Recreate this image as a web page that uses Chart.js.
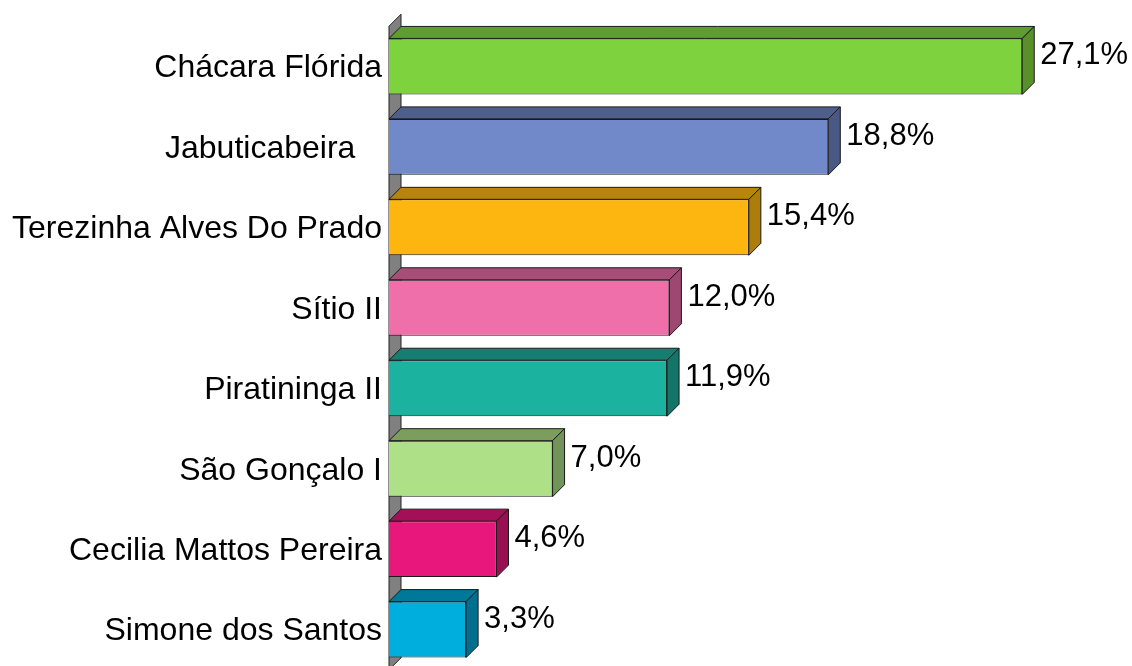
<!DOCTYPE html>
<html>
<head>
<meta charset="utf-8">
<script src="https://cdn.jsdelivr.net/npm/chart.js@4/dist/chart.umd.min.js"></script>
<style>
  html, body { margin: 0; padding: 0; background: #fff; overflow: hidden; }
  #wrap { width: 1132px; height: 696px; position: relative; }
</style>
</head>
<body>
<div id="wrap"><canvas id="c"></canvas></div>
<script>
// ---- data ----
const categories = [
  "Chácara Flórida",
  "Jabuticabeira   ",
  "Terezinha Alves Do Prado",
  "Sítio II",
  "Piratininga II",
  "São Gonçalo I",
  "Cecilia Mattos Pereira",
  "Simone dos Santos"
];
const percentValues = [27.1, 18.8, 15.4, 12.0, 11.9, 7.0, 4.6, 3.3];
const frontColors = ["#7ED23D", "#7189C9", "#FDB60F", "#EF6FAA", "#1BB3A0", "#AEE087", "#E8177B", "#00AEDE"];
const topColors   = ["#5F9E2E", "#4E5F8C", "#B8850C", "#A84D78", "#157E70", "#7B9E5F", "#A31058", "#00789A"];
const sideColors  = ["#5A902B", "#4A5884", "#AD7D0B", "#9C4870", "#137468", "#729458", "#980F52", "#006F8F"];

const DEPTH = 12;
const FONT = "'Liberation Sans', Arial, sans-serif";

const threeD = {
  id: 'threeD',
  beforeDatasetsDraw(chart) {
    const ctx = chart.ctx, a = chart.chartArea;
    ctx.save();
    ctx.beginPath();
    ctx.moveTo(a.left, a.top);
    ctx.lineTo(a.left + DEPTH, a.top - DEPTH);
    ctx.lineTo(a.left + DEPTH, a.bottom - DEPTH);
    ctx.lineTo(a.left, a.bottom);
    ctx.closePath();
    ctx.fillStyle = '#808080';
    ctx.fill();
    ctx.strokeStyle = '#222';
    ctx.lineWidth = 1;
    ctx.stroke();
    ctx.restore();
  },
  afterDatasetsDraw(chart) {
    const ctx = chart.ctx;
    const meta = chart.getDatasetMeta(0);
    ctx.save();
    ctx.lineWidth = 1;
    ctx.strokeStyle = '#1a1a1a';
    meta.data.forEach((bar, i) => {
      const p = bar.getProps(['x', 'y', 'base', 'height'], true);
      const top = p.y - p.height / 2, bottom = p.y + p.height / 2;
      const x0 = p.base, x1 = p.x;
      // top face
      ctx.beginPath();
      ctx.moveTo(x0, top);
      ctx.lineTo(x0 + DEPTH, top - DEPTH);
      ctx.lineTo(x1 + DEPTH, top - DEPTH);
      ctx.lineTo(x1, top);
      ctx.closePath();
      ctx.fillStyle = topColors[i];
      ctx.fill();
      ctx.stroke();
      // right face
      ctx.beginPath();
      ctx.moveTo(x1, top);
      ctx.lineTo(x1 + DEPTH, top - DEPTH);
      ctx.lineTo(x1 + DEPTH, bottom - DEPTH);
      ctx.lineTo(x1, bottom);
      ctx.closePath();
      ctx.fillStyle = sideColors[i];
      ctx.fill();
      ctx.stroke();
      // value label
      ctx.fillStyle = '#000';
      ctx.font = '31px ' + FONT;
      ctx.textAlign = 'left';
      ctx.textBaseline = 'alphabetic';
      const txt = percentValues[i].toFixed(1).replace('.', ',') + '%';
      ctx.fillText(txt, x1 + DEPTH + 6, p.y - 2);
    });
    ctx.restore();
  }
};

new Chart(document.getElementById('c'), {
  type: 'bar',
  data: {
    labels: categories,
    datasets: [{
      data: percentValues,
      backgroundColor: frontColors,
      borderColor: '#1a1a1a',
      borderWidth: 1,
      categoryPercentage: 1,
      barPercentage: 0.696
    }]
  },
  options: {
    indexAxis: 'y',
    responsive: true,
    maintainAspectRatio: false,
    animation: false,
    layout: { padding: { top: 26, bottom: 1, left: 0, right: 42 } },
    plugins: { legend: { display: false }, tooltip: { enabled: false } },
    scales: {
      x: { display: false, min: 0, max: 30 },
      y: {
        grid: { display: false, drawTicks: false },
        border: { display: false },
        ticks: { color: '#000', padding: 7, labelOffset: 2, font: { family: FONT, size: 32 } },
        afterFit(scale) { scale.width = 389; }
      }
    }
  },
  plugins: [threeD]
});
</script>
</body>
</html>
